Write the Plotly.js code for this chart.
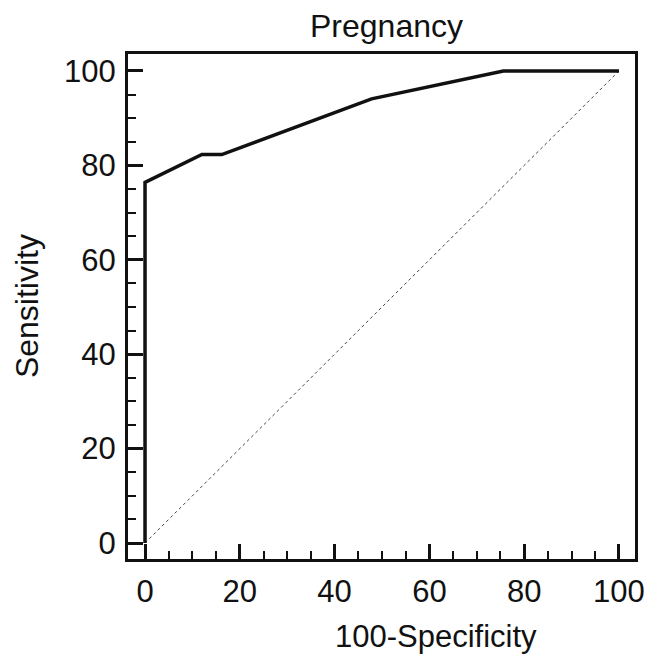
<!DOCTYPE html>
<html>
<head>
<meta charset="utf-8">
<script src="https://cdn.plot.ly/plotly-3.0.1.min.js"></script>
<style>html,body{margin:0;padding:0;background:#fff;}#chart{width:657px;height:656px;}</style>
</head>
<body>
<div id="chart"></div>
<script>
var chartTitle = "Pregnancy";
var xTitle = "100-Specificity";
var yTitle = "Sensitivity";
var rocX = [0, 0, 12, 16.2, 47.8, 75.6, 100];
var rocY = [0, 76.4, 82.3, 82.3, 94.1, 100, 100];
var diagX = [0, 100];
var diagY = [0, 100];
var tickVals = [0, 20, 40, 60, 80, 100];
var tickText = ["0", "20", "40", "60", "80", "100"];

var font = "Liberation Sans, Arial, Helvetica, sans-serif";
var traces = [
  {x: diagX, y: diagY, mode: "lines", line: {color: "#444", width: 1, dash: "dot"}, hoverinfo: "skip"},
  {x: rocX, y: rocY, mode: "lines", line: {color: "#111", width: 3.5}}
];
var axisCommon = {
  showgrid: false, zeroline: false, showline: true, linecolor: "#111", linewidth: 3, mirror: true,
  ticks: "inside", ticklen: 15, tickwidth: 3, tickcolor: "#111",
  tickmode: "array", tickvals: tickVals, ticktext: tickText,
  tickfont: {family: font, size: 31, color: "#111"},
  minor: {dtick: 5, ticks: "inside", ticklen: 8, tickwidth: 2, tickcolor: "#111", showgrid: false},
  fixedrange: true
};
var layout = {
  width: 657, height: 656,
  margin: {l: 128, r: 22, t: 54, b: 97},
  paper_bgcolor: "#fff", plot_bgcolor: "#fff",
  showlegend: false,
  font: {family: font, color: "#111"},
  xaxis: Object.assign({}, axisCommon, {range: [-3.59, 103.38], ticklabelstandoff: 3}),
  yaxis: Object.assign({}, axisCommon, {range: [-3.39, 103.6], ticklabelstandoff: 3}),
  annotations: [
    {text: chartTitle, xref: "paper", yref: "paper", x: 0.509, y: 1.0, yshift: 28, xanchor: "center", yanchor: "middle", showarrow: false, font: {family: font, size: 32, color: "#111"}},
    {text: xTitle, xref: "paper", yref: "paper", x: 0.608, y: 0, yshift: -77, xanchor: "center", yanchor: "middle", showarrow: false, font: {family: font, size: 31, color: "#111"}},
    {text: yTitle, xref: "paper", yref: "paper", x: -0.2, y: 0.5, xanchor: "center", yanchor: "middle", textangle: -90, showarrow: false, font: {family: font, size: 32, color: "#111"}}
  ]
};
Plotly.newPlot("chart", traces, layout, {displayModeBar: false, staticPlot: true});
</script>
</body>
</html>
